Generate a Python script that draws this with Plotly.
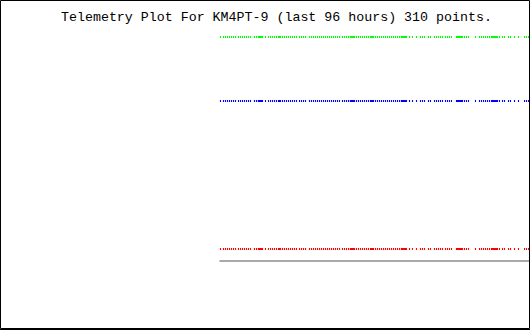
import plotly.graph_objects as go

# ---- data (hours before now, and raw telemetry values 0-255) ----
hours = [
    -62.0, -61.98,
    -61.4, -61.38, -61.0, -60.98, -60.6, -60.58, -60.2, -60.18, -59.8, -59.78, -59.4, -59.38, -59.0, -58.98,
    -58.4, -58.38, -58.0, -57.98, -57.6, -57.58, -57.2, -57.18, -56.8, -56.78, -56.4, -56.38, -56.0, -55.98,
    -55.2, -55.18, -54.8, -54.78,
    -54.42, -54.4, -54.38, -54.22, -54.2, -54.18, -54.02, -54.0, -53.98, -53.82, -53.8, -53.78, -53.62, -53.6, -53.58,
    -53.0, -52.98,
    -52.4, -52.38, -52.0, -51.98, -51.6, -51.58, -51.2, -51.18, -50.8, -50.78, -50.4, -50.38, -50.2, -50.18, -50.0, -49.98,
    -49.6, -49.58, -49.2, -49.18, -48.8, -48.78, -48.4, -48.38, -48.0, -47.98, -47.6, -47.58, -47.2, -47.18, -46.8, -46.78,
    -46.2, -46.18, -45.8, -45.78, -45.4, -45.38, -45.0, -44.98,
    -44.2, -44.18, -43.8, -43.78, -43.4, -43.38, -43.0, -42.98, -42.6, -42.58, -42.2, -42.18, -41.8, -41.78, -41.4, -41.38,
    -41.0, -40.98, -40.6, -40.58, -40.2, -40.18, -39.8, -39.78, -39.4, -39.38, -39.0, -38.98, -38.6, -38.58, -38.2, -38.18,
    -37.6, -37.58, -37.2, -37.18, -36.8, -36.78, -36.4, -36.38,
    -36.02, -36.0, -35.98, -35.8, -35.78, -35.6, -35.58, -35.4, -35.38, -35.2, -35.18,
    -34.8, -34.78, -34.4, -34.38, -34.0, -33.98, -33.6, -33.58, -33.2, -33.18, -32.8, -32.78, -32.4, -32.38,
    -32.0, -31.98, -31.8, -31.78, -31.6, -31.58, -31.4, -31.38,
    -31.0, -30.98, -30.6, -30.58, -30.2, -30.18, -29.8, -29.78, -29.4, -29.38, -29.0, -28.98, -28.6, -28.58,
    -28.2, -28.18, -27.8, -27.78, -27.4, -27.38, -27.0, -26.98, -26.6, -26.58, -26.2, -26.18,
    -25.82, -25.8, -25.78, -25.62, -25.6, -25.58, -25.42, -25.4, -25.38, -25.22, -25.2, -25.18, -25.02, -25.0, -24.98,
    -24.82, -24.8, -24.78,
    -24.2, -24.18, -23.6, -23.58, -22.8, -22.78,
    -22.0, -21.98, -21.6, -21.58, -21.2, -21.18,
    -20.4, -20.38, -20.0, -19.98,
    -19.2, -19.18, -18.8, -18.78, -18.4, -18.38, -18.0, -17.98, -17.6, -17.58,
    -17.0, -16.98, -16.6, -16.58, -16.2, -16.18, -15.8, -15.78,
    -14.8, -14.78, -14.6, -14.58, -14.4, -14.38, -14.2, -14.18, -14.0, -13.98, -13.8, -13.78, -13.6, -13.58,
    -13.2, -13.18, -12.8, -12.78, -12.4, -12.38,
    -11.0, -10.98,
    -10.2, -10.18, -9.8, -9.78, -9.4, -9.38, -9.0, -8.98, -8.6, -8.58, -8.2, -8.18,
    -7.8, -7.78, -7.6, -7.58, -7.4, -7.38, -7.2, -7.18, -7.0, -6.98, -6.8, -6.78, -6.6, -6.58,
    -6.2, -6.18, -5.6, -5.58, -5.2, -5.18, -4.4, -4.38, -4.0, -3.98,
    -3.2, -3.18, -2.4, -2.38, -1.2, -1.18, -0.8, -0.78, -0.4, -0.38,
]

green_values = [
    224, 224, 224, 224, 224, 224, 224, 224, 224, 224, 224, 224, 224, 224, 224, 224, 224, 224, 224, 224,
    224, 224, 224, 224, 224, 224, 224, 224, 224, 224, 224, 224, 224, 224, 224, 224, 224, 224, 224, 224,
    224, 224, 224, 224, 224, 224, 224, 224, 224, 224, 224, 224, 224, 224, 224, 224, 224, 224, 224, 224,
    224, 224, 224, 224, 224, 224, 224, 224, 224, 224, 224, 224, 224, 224, 224, 224, 224, 224, 224, 224,
    224, 224, 224, 224, 224, 224, 224, 224, 224, 224, 224, 224, 224, 224, 224, 224, 224, 224, 224, 224,
    224, 224, 224, 224, 224, 224, 224, 224, 224, 224, 224, 224, 224, 224, 224, 224, 224, 224, 224, 224,
    224, 224, 224, 224, 224, 224, 224, 224, 224, 224, 224, 224, 224, 224, 224, 224, 224, 224, 224, 224,
    224, 224, 224, 224, 224, 224, 224, 224, 224, 224, 224, 224, 224, 224, 224, 224, 224, 224, 224, 224,
    224, 224, 224, 224, 224, 224, 224, 224, 224, 224, 224, 224, 224, 224, 224, 224, 224, 224, 224, 224,
    224, 224, 224, 224, 224, 224, 224, 224, 224, 224, 224, 224, 224, 224, 224, 224, 224, 224, 224, 224,
    224, 224, 224, 224, 224, 224, 224, 224, 224, 224, 224, 224, 224, 224, 224, 224, 224, 224, 224, 224,
    224, 224, 224, 224, 224, 224, 224, 224, 224, 224, 224, 224, 224, 224, 224, 224, 224, 224, 224, 224,
    224, 224, 224, 224, 224, 224, 224, 224, 224, 224, 224, 224, 224, 224, 224, 224, 224, 224, 224, 224,
    224, 224, 224, 224, 224, 224, 224, 224, 224, 224, 224, 224, 224, 224, 224, 224, 224, 224, 224, 224,
    224, 224, 224, 224, 224, 224, 224, 224, 224, 224, 224, 224, 224, 224, 224, 224, 224, 224, 224, 224,
    224, 224, 224, 224, 224, 224, 224, 224, 224, 224,
]

blue_values = [
    160, 160, 160, 160, 160, 160, 160, 160, 160, 160, 160, 160, 160, 160, 160, 160, 160, 160, 160, 160,
    160, 160, 160, 160, 160, 160, 160, 160, 160, 160, 160, 160, 160, 160, 160, 160, 160, 160, 160, 160,
    160, 160, 160, 160, 160, 160, 160, 160, 160, 160, 160, 160, 160, 160, 160, 160, 160, 160, 160, 160,
    160, 160, 160, 160, 160, 160, 160, 160, 160, 160, 160, 160, 160, 160, 160, 160, 160, 160, 160, 160,
    160, 160, 160, 160, 160, 160, 160, 160, 160, 160, 160, 160, 160, 160, 160, 160, 160, 160, 160, 160,
    160, 160, 160, 160, 160, 160, 160, 160, 160, 160, 160, 160, 160, 160, 160, 160, 160, 160, 160, 160,
    160, 160, 160, 160, 160, 160, 160, 160, 160, 160, 160, 160, 160, 160, 160, 160, 160, 160, 160, 160,
    160, 160, 160, 160, 160, 160, 160, 160, 160, 160, 160, 160, 160, 160, 160, 160, 160, 160, 160, 160,
    160, 160, 160, 160, 160, 160, 160, 160, 160, 160, 160, 160, 160, 160, 160, 160, 160, 160, 160, 160,
    160, 160, 160, 160, 160, 160, 160, 160, 160, 160, 160, 160, 160, 160, 160, 160, 160, 160, 160, 160,
    160, 160, 160, 160, 160, 160, 160, 160, 160, 160, 160, 160, 160, 160, 160, 160, 160, 160, 160, 160,
    160, 160, 160, 160, 160, 160, 160, 160, 160, 160, 160, 160, 160, 160, 160, 160, 160, 160, 160, 160,
    160, 160, 160, 160, 160, 160, 160, 160, 160, 160, 160, 160, 160, 160, 160, 160, 160, 160, 160, 160,
    160, 160, 160, 160, 160, 160, 160, 160, 160, 160, 160, 160, 160, 160, 160, 160, 160, 160, 160, 160,
    160, 160, 160, 160, 160, 160, 160, 160, 160, 160, 160, 160, 160, 160, 160, 160, 160, 160, 160, 160,
    160, 160, 160, 160, 160, 160, 160, 160, 160, 160,
]

red_values = [
    12, 12, 12, 12, 12, 12, 12, 12, 12, 12, 12, 12, 12, 12, 12, 12, 12, 12, 12, 12,
    12, 12, 12, 12, 12, 12, 12, 12, 12, 12, 12, 12, 12, 12, 12, 12, 12, 12, 12, 12,
    12, 12, 12, 12, 12, 12, 12, 12, 12, 12, 12, 12, 12, 12, 12, 12, 12, 12, 12, 12,
    12, 12, 12, 12, 12, 12, 12, 12, 12, 12, 12, 12, 12, 12, 12, 12, 12, 12, 12, 12,
    12, 12, 12, 12, 12, 12, 12, 12, 12, 12, 12, 12, 12, 12, 12, 12, 12, 12, 12, 12,
    12, 12, 12, 12, 12, 12, 12, 12, 12, 12, 12, 12, 12, 12, 12, 12, 12, 12, 12, 12,
    12, 12, 12, 12, 12, 12, 12, 12, 12, 12, 12, 12, 12, 12, 12, 12, 12, 12, 12, 12,
    12, 12, 12, 12, 12, 12, 12, 12, 12, 12, 12, 12, 12, 12, 12, 12, 12, 12, 12, 12,
    12, 12, 12, 12, 12, 12, 12, 12, 12, 12, 12, 12, 12, 12, 12, 12, 12, 12, 12, 12,
    12, 12, 12, 12, 12, 12, 12, 12, 12, 12, 12, 12, 12, 12, 12, 12, 12, 12, 12, 12,
    12, 12, 12, 12, 12, 12, 12, 12, 12, 12, 12, 12, 12, 12, 12, 12, 12, 12, 12, 12,
    12, 12, 12, 12, 12, 12, 12, 12, 12, 12, 12, 12, 12, 12, 12, 12, 12, 12, 12, 12,
    12, 12, 12, 12, 12, 12, 12, 12, 12, 12, 12, 12, 12, 12, 12, 12, 12, 12, 12, 12,
    12, 12, 12, 12, 12, 12, 12, 12, 12, 12, 12, 12, 12, 12, 12, 12, 12, 12, 12, 12,
    12, 12, 12, 12, 12, 12, 12, 12, 12, 12, 12, 12, 12, 12, 12, 12, 12, 12, 12, 12,
    12, 12, 12, 12, 12, 12, 12, 12, 12, 12,
]

baseline_hours = [-62.2, 0.0]
baseline_values = [0, 0]

title_text = "Telemetry Plot For KM4PT-9 (last 96 hours) 310 points."

# ---- figure ----
W, H = 530, 330
ML = 50  # left margin (px)


def px_x(px):
    return (px - ML) / (W - ML)


def px_y(py):
    return (H - py) / H


fig = go.Figure()

fig.add_trace(go.Scatter(
    x=baseline_hours, y=baseline_values, mode="lines",
    line=dict(color="#a9a9a9", width=2), hoverinfo="skip",
))

for vals, col in ((green_values, "#00ff00"), (blue_values, "#0000ff"), (red_values, "#ff0000")):
    fig.add_trace(go.Scatter(
        x=hours, y=vals, mode="markers",
        marker=dict(symbol="line-ns", size=1.43, color=col,
                    line=dict(color=col, width=1)),
        hoverinfo="skip",
    ))

fig.add_annotation(
    text=title_text, xref="paper", yref="paper",
    x=px_x(276), y=px_y(17), xanchor="center", yanchor="middle",
    showarrow=False, font=dict(family="Liberation Mono", size=13.3, color="black"),
)

# black frame
fig.add_shape(type="rect", xref="paper", yref="paper",
              x0=px_x(0.5), x1=px_x(529.5), y0=px_y(328.5), y1=px_y(0.5),
              line=dict(color="black", width=1), fillcolor="rgba(0,0,0,0)")
fig.add_shape(type="line", xref="paper", yref="paper",
              x0=px_x(0), x1=px_x(530), y0=px_y(329.5), y1=px_y(329.5),
              line=dict(color="black", width=1))

fig.update_layout(
    width=W, height=H,
    margin=dict(l=ML, r=0, t=0, b=0, pad=0),
    paper_bgcolor="white", plot_bgcolor="white",
    showlegend=False,
    xaxis=dict(range=[-96.09, -0.09], visible=False, showgrid=False, zeroline=False),
    yaxis=dict(range=[-69, 261], visible=False, showgrid=False, zeroline=False),
)

fig.write_html("out.html")
